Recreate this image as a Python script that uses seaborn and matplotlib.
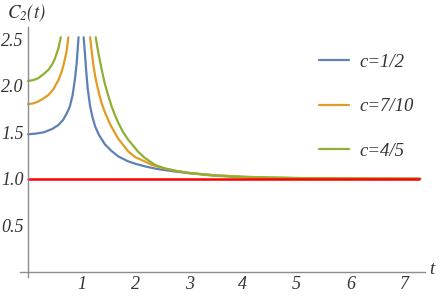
import pandas as pd
import numpy as np
import matplotlib.pyplot as plt
import seaborn as sns
from matplotlib.ticker import MultipleLocator, FixedLocator

# values, two branches per curve (either side of the spike)
labels = ["c=1/2", "c=7/10", "c=4/5"]

t_blue_l = [0, 0.15, 0.3, 0.45, 0.565, 0.65, 0.72, 0.78, 0.83, 0.875, 0.905, 0.94]
c_blue_l = [1.477, 1.485, 1.50, 1.535, 1.577, 1.63, 1.70, 1.78, 1.90, 2.08, 2.24, 2.52]
t_blue_r = [1.035, 1.06, 1.085, 1.11, 1.155, 1.20, 1.25, 1.32, 1.43, 1.55, 1.68, 1.85,
            2.0, 2.2, 2.4, 2.7, 3.0, 3.5, 4.0, 4.5, 5.0, 6.0, 7.3]
c_blue_r = [2.52, 2.34, 2.14, 1.97, 1.78, 1.66, 1.56, 1.47, 1.37, 1.30, 1.24, 1.19,
            1.16, 1.13, 1.105, 1.08, 1.06, 1.035, 1.02, 1.012, 1.007, 1.002, 1.0]

t_orange_l = [0, 0.1, 0.19, 0.28, 0.38, 0.47, 0.565, 0.62, 0.66, 0.70, 0.72, 0.75]
c_orange_l = [1.80, 1.81, 1.83, 1.86, 1.90, 1.96, 2.06, 2.14, 2.22, 2.32, 2.38, 2.52]
t_orange_r = [1.155, 1.19, 1.216, 1.26, 1.31, 1.37, 1.434, 1.50, 1.56, 1.68, 1.87, 2.0,
              2.12, 2.3, 2.5, 2.75, 3.0, 3.5, 4.0, 4.5, 5.0, 6.0, 7.3]
c_orange_r = [2.52, 2.34, 2.22, 2.07, 1.94, 1.81, 1.71, 1.62, 1.55, 1.43, 1.29, 1.23,
              1.20, 1.15, 1.115, 1.085, 1.063, 1.037, 1.022, 1.013, 1.008, 1.003, 1.0]

t_green_l = [0, 0.1, 0.19, 0.28, 0.38, 0.45, 0.50, 0.565, 0.61]
c_green_l = [2.05, 2.06, 2.08, 2.12, 2.17, 2.23, 2.29, 2.40, 2.52]
t_green_r = [1.26, 1.30, 1.34, 1.39, 1.434, 1.50, 1.56, 1.62, 1.68, 1.77, 1.87, 2.05,
             2.17, 2.36, 2.55, 2.75, 3.0, 3.4, 3.76, 4.13, 4.5, 5.0, 6.0, 7.3]
c_green_r = [2.52, 2.38, 2.26, 2.12, 2.01, 1.88, 1.77, 1.68, 1.60, 1.50, 1.415, 1.29,
             1.225, 1.15, 1.11, 1.085, 1.06, 1.035, 1.022, 1.013, 1.009, 1.006, 1.002, 1.0]

t_ref = [0, 7.28]
c_ref = [1.0, 1.0]

colors = ["#5E81B5", "#E19C24", "#8FB032"]

rows = []
branches = [
    (labels[0], "L", t_blue_l, c_blue_l), (labels[0], "R", t_blue_r, c_blue_r),
    (labels[1], "L", t_orange_l, c_orange_l), (labels[1], "R", t_orange_r, c_orange_r),
    (labels[2], "L", t_green_l, c_green_l), (labels[2], "R", t_green_r, c_green_r),
]
for lab, br, ts, cs in branches:
    for t, c in zip(ts, cs):
        rows.append({"c": lab, "branch": br, "t": t, "C": c})
df = pd.DataFrame(rows)

sns.set_style("white")
plt.rcParams['font.family'] = ['Liberation Serif', 'DejaVu Serif']
plt.rcParams['font.style'] = 'italic'
plt.rcParams['mathtext.fontset'] = 'stix'

fig = plt.figure(figsize=(4.4, 2.96), dpi=100)
ax = fig.add_axes([20 / 440, 1 - 277.4 / 296, 405 / 440, (277.4 - 27) / 296])

sns.lineplot(data=df, x="t", y="C", hue="c", units="branch", estimator=None,
             palette=colors, hue_order=labels, lw=1.6, ax=ax, legend=False, sort=False)
sns.lineplot(x=t_ref, y=c_ref, color="#FF0000", lw=1.8, ax=ax)

ax.set_xlim(-0.15, 7.39)
ax.set_ylim(-0.06, 2.63)

axcol = "#8c8c8c"
for s in ["top", "right"]:
    ax.spines[s].set_visible(False)
ax.spines["left"].set_position(("data", 0))
ax.spines["bottom"].set_position(("data", 0))
for s in ["left", "bottom"]:
    ax.spines[s].set_color(axcol)
    ax.spines[s].set_linewidth(1.0)

ax.xaxis.set_major_locator(FixedLocator([1, 2, 3, 4, 5, 6, 7]))
ax.xaxis.set_minor_locator(MultipleLocator(0.2))
ax.yaxis.set_major_locator(FixedLocator([0.5, 1.0, 1.5, 2.0, 2.5]))
ax.yaxis.set_minor_locator(MultipleLocator(0.1))
ax.tick_params(which="major", direction="in", length=4, width=0.8, color=axcol,
               labelsize=13, labelcolor="#333333", pad=3)
ax.tick_params(which="minor", direction="in", length=2.2, width=0.6, color=axcol)
ax.set_xticklabels([str(v) for v in [1, 2, 3, 4, 5, 6, 7]])
ax.set_yticklabels(["0.5", "1.0", "1.5", "2.0", "2.5"])

ax.set_xlabel("")
ax.set_ylabel("")
fig.text(7 / 440, 1 - 13 / 296, r"$C_2(t)$", fontsize=13.5, color="#333333",
         va="center", ha="left")
fig.text(432 / 440, 1 - 270 / 296, "t", fontsize=13.5, color="#333333",
         va="center", ha="center")

handles = [plt.Line2D([], [], color=col, lw=1.6) for col in colors]
leg = fig.legend(handles, labels, loc="upper left", bbox_to_anchor=(302 / 440, 1 - 37 / 296),
                 frameon=False, handlelength=1.6, handletextpad=0.55, labelspacing=1.45,
                 prop={"size": 13.5})
for txt in leg.get_texts():
    txt.set_color("#333333")

fig.savefig("out.png", dpi=100)
